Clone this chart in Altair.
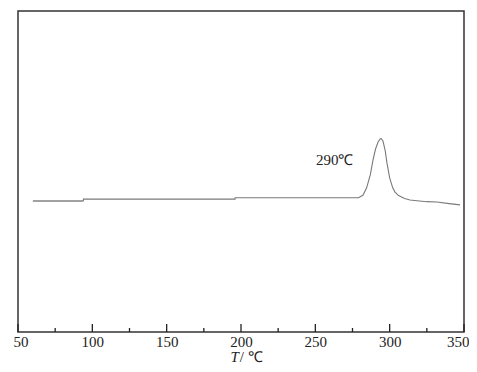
import altair as alt
import pandas as pd

# curve data (temperature in C, signal in arbitrary units 0-100)
temp = [60, 94, 94, 196, 196, 279, 282, 284.5, 287, 288.8, 290.5, 292.2, 293.5, 294.2,
        295.5, 297, 298.2, 300, 302, 303.6, 306, 310, 313.7, 320, 325, 331.8, 340, 347.3]
signal = [40.8, 40.8, 41.4, 41.4, 41.8, 41.8, 42.6, 44.9, 49.0, 53.6, 57.0, 59.2, 60.1, 60.3,
          59.5, 56.5, 52.6, 48.0, 45.0, 43.6, 42.5, 41.6, 41.1, 40.8, 40.6, 40.5, 40.0, 39.6]
segment = ["a", "a"] + ["b"] * 26

major_ticks = [50, 100, 150, 200, 250, 300, 350]
minor_ticks = [75, 125, 175, 225, 275, 325]

peak_label = "290℃"
peak_label_x = 263
peak_label_y = 53.6

W, H = 446, 321
FONT = "Liberation Serif"

df = pd.DataFrame({"T": temp, "S": signal, "seg": segment})
# duplicate joint so segments connect
df = pd.concat([df, pd.DataFrame({"T": [94], "S": [40.8], "seg": ["b"]})]).sort_values(["seg", "T", "S"])

xs = alt.Scale(domain=[50, 350], nice=False, zero=False)
ys = alt.Scale(domain=[0, 100], nice=False, zero=False)

line = alt.Chart(df).mark_line(strokeWidth=1.1).encode(
    x=alt.X("T:Q", scale=xs,
            axis=alt.Axis(values=major_ticks, ticks=False, grid=False, domain=False,
                          labelFont=FONT, labelFontSize=15, labelColor="#222",
                          labelPadding=2, labelFlush=True, labelFlushOffset=5,
                          labelOverlap=False, title=None, format="d")),
    y=alt.Y("S:Q", scale=ys, axis=None),
    color=alt.Color("seg:N", scale=alt.Scale(domain=["a", "b"], range=["#444444", "#7a7a7a"]), legend=None),
    order="T:Q",
)

maj = alt.Chart(pd.DataFrame({"t": major_ticks})).mark_rule(color="#222", strokeWidth=1.3).encode(
    x="t:Q", y=alt.value(H), y2=alt.value(H - 8))
mino = alt.Chart(pd.DataFrame({"t": minor_ticks})).mark_rule(color="#222", strokeWidth=1.3).encode(
    x="t:Q", y=alt.value(H), y2=alt.value(H - 4))

label = alt.Chart(pd.DataFrame({"x": [peak_label_x], "y": [peak_label_y], "t": [peak_label]})).mark_text(
    font=FONT, fontSize=15, color="#222").encode(x="x:Q", y="y:Q", text="t:N")

title_T = alt.Chart(pd.DataFrame({"x": [198.5], "t": ["T"]})).mark_text(
    font=FONT, fontSize=15, fontStyle="italic", color="#222", align="right", baseline="alphabetic").encode(
    x="x:Q", y=alt.value(H + 30), text="t:N")
title_rest = alt.Chart(pd.DataFrame({"x": [199.2], "t": ["/ ℃"]})).mark_text(
    font=FONT, fontSize=15, color="#222", align="left", baseline="alphabetic").encode(
    x="x:Q", y=alt.value(H + 30), text="t:N")

chart = alt.layer(line, maj, mino, label, title_T, title_rest).properties(
    width=W, height=H,
    background="white",
    autosize=alt.AutoSizeParams(type="none"),
    padding={"left": 10, "top": 3, "right": 5, "bottom": 32},
).configure_view(stroke="#333", strokeWidth=1.5)

chart.save("out.html", embed_options={"renderer": "svg", "actions": False})
